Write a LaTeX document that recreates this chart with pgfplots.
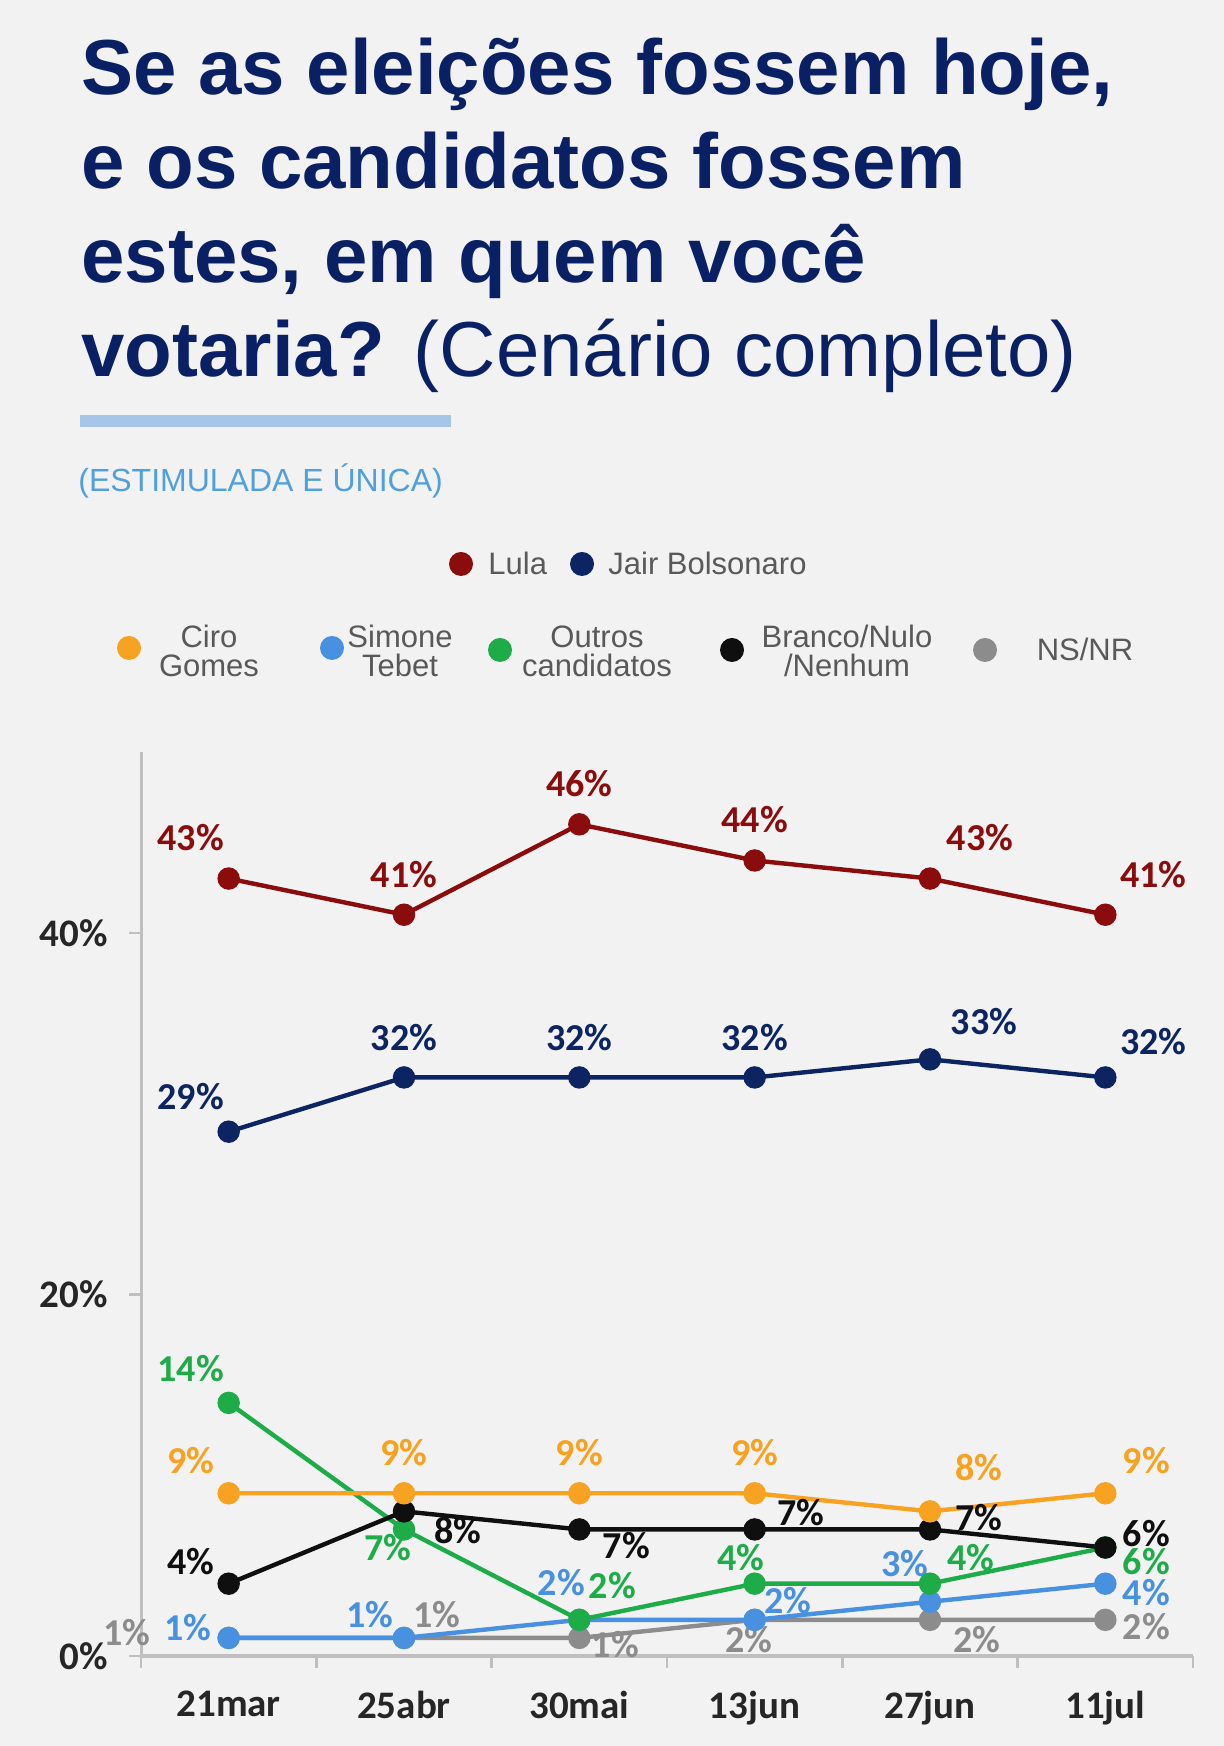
\documentclass[border=0pt]{standalone}
\usepackage{fontspec}
\setmainfont{Liberation Sans}
\newfontfamily\carl{Carlito}
\usepackage{pgfplots}
\pgfplotsset{compat=1.18}
\usepackage{pgfplotstable}

\definecolor{bg}{RGB}{242,242,242}
\definecolor{titleblue}{RGB}{10,32,100}
\definecolor{barblue}{RGB}{167,197,232}
\definecolor{subblue}{RGB}{80,160,222}
\definecolor{legtext}{RGB}{89,89,89}
\definecolor{axisgray}{RGB}{191,191,191}
\definecolor{ticktext}{RGB}{38,38,38}
\definecolor{clula}{RGB}{139,12,12}
\definecolor{cbolso}{RGB}{12,36,97}
\definecolor{cciro}{RGB}{247,162,32}
\definecolor{csimone}{RGB}{72,145,225}
\definecolor{coutros}{RGB}{30,172,72}
\definecolor{cbranco}{RGB}{15,15,15}
\definecolor{cnsnr}{RGB}{140,140,140}

\pgfplotstableread{
x y dx dy
0 43 -19 20
1 41 0 19.5
2 46 0 20
3 44 0 20
4 43 25 20
5 41 24 19.5
}\lula
\pgfplotstableread{
x y dx dy
0 29 -19 17
1 32 0 19.5
2 32 0 19.5
3 32 0 19.5
4 33 27 18.5
5 32 24 17.5
}\bolso
\pgfplotstableread{
x y dx dy
0 9 -19 16
1 9 0 20
2 9 0 20
3 9 0 20
4 8 24.5 21.5
5 9 20.5 16
}\ciro
\pgfplotstableread{
x y dx dy
0 1 -20.5 4.5
1 1 -17 11
2 2 -9 18
3 2 16.5 9
4 3 -12.5 18.5
5 4 20.5 -5
}\simone
\pgfplotstableread{
x y dx dy
0 14 -19 16.5
1 7 -8 -9.5
2 2 16.5 16.5
3 4 -7 12.5
4 4 20.5 12.5
5 6 20.5 -7.5
}\outros
\pgfplotstableread{
x y dx dy
0 4 -19 10.5
1 8 27 -10
2 7 23.5 -8.5
3 7 23 8
4 7 24.5 5.5
5 6 20.5 6.5
}\branco
\pgfplotstableread{
x y dx dy
0 1 -51 2
1 1 16.5 11
2 1 18 -4
3 2 -3 -10.5
4 2 23.5 -10.5
5 2 20.5 -4
}\nsnr

\pgfplotsset{
  lab/.style={
    color=#1, mark=*, mark options={fill=#1, draw=#1, solid}, line width=2.2pt, mark size=4.5pt,
    nodes near coords={\pgfplotspointmeta\%},
    point meta=explicit symbolic,
    visualization depends on={\thisrow{dx}\as\dx},
    visualization depends on={\thisrow{dy}\as\dy},
    every node near coord/.append style={font=\carl\bfseries\fontsize{19}{22}\selectfont, text=#1, anchor=center, inner sep=0pt, text height=12pt, text depth=0pt, xshift=\dx*1pt, yshift=\dy*1pt},
  }
}

\begin{document}
\begin{tikzpicture}
\path[use as bounding box, fill=bg] (0,0) rectangle (612pt,873pt);

% Title
\begin{scope}[every node/.style={anchor=base west, inner sep=0pt, text=titleblue, font=\fontsize{39}{47}\selectfont\bfseries}]
\node at (40.5pt,825.5pt) {Se as eleições fossem hoje,};
\node at (40.5pt,778.5pt) {e os candidatos fossem};
\node at (40.5pt,731.5pt) {estes, em quem você};
\node at (40.5pt,684.5pt) {votaria? \mdseries(Cenário completo)};
\end{scope}
\fill[barblue] (40pt,659.5pt) rectangle (225.5pt,665.5pt);
\node[anchor=base west, inner sep=0pt, text=subblue, font=\fontsize{16}{18}\selectfont] at (39pt,627pt) {(ESTIMULADA E ÚNICA)};

% Legend
\begin{scope}[every node/.style={inner sep=0pt, text=legtext, font=\fontsize{15.5}{14.5}\selectfont, align=center}]
\fill[clula] (230.5pt,591pt) circle (6pt);
\node[anchor=base west] at (244pt,585.5pt) {Lula};
\fill[cbolso] (291pt,591pt) circle (6pt);
\node[anchor=base west] at (304pt,585.5pt) {Jair Bolsonaro};
\fill[cciro] (64.5pt,549pt) circle (6pt);
\node at (104.5pt,547.5pt) {Ciro\\Gomes};
\fill[csimone] (166pt,549pt) circle (6pt);
\node at (200pt,547.5pt) {Simone\\Tebet};
\fill[coutros] (250pt,548pt) circle (6pt);
\node at (298.5pt,547.5pt) {Outros\\candidatos};
\fill[cbranco] (366pt,548pt) circle (6pt);
\node at (423.5pt,547.5pt) {Branco/Nulo\\/Nenhum};
\fill[cnsnr] (492.5pt,548pt) circle (6pt);
\node at (542.5pt,548.5pt) {NS/NR};
\end{scope}

\begin{axis}[
  at={(70.5pt,45pt)}, anchor=south west, scale only axis,
  width=526pt, height=452pt,
  xmin=-0.5, xmax=5.5, ymin=0, ymax=50,
  axis lines*=left,
  x axis line style={draw=axisgray, line width=2pt},
  y axis line style={draw=axisgray, line width=1.5pt},
  xtick={0,...,5}, xticklabels={21mar,25abr,30mai,13jun,27jun,11jul},
  minor xtick={-0.5,0.5,...,5.5},
  ytick={0,20,40}, yticklabels={0\%,20\%,40\%},
  tick align=outside, major tick length=6pt, minor tick length=6pt,
  major x tick style={draw=none},
  minor x tick style={draw=axisgray, line width=1.2pt},
  major y tick style={draw=axisgray, line width=1.2pt},
  tick label style={font=\carl\bfseries\fontsize{19.5}{22}\selectfont, text=ticktext},
  xticklabel style={yshift=-8pt},
  yticklabel style={xshift=-7pt},
  clip=false,
]
\addplot[lab=cnsnr] table[x=x,y=y,meta=y]{\nsnr};
\addplot[lab=csimone] table[x=x,y=y,meta=y]{\simone};
\addplot[lab=coutros] table[x=x,y=y,meta=y]{\outros};
\addplot[lab=cbranco] table[x=x,y=y,meta=y]{\branco};
\addplot[lab=cciro] table[x=x,y=y,meta=y]{\ciro};
\addplot[lab=cbolso] table[x=x,y=y,meta=y]{\bolso};
\addplot[lab=clula] table[x=x,y=y,meta=y]{\lula};
\end{axis}
\end{tikzpicture}
\end{document}
